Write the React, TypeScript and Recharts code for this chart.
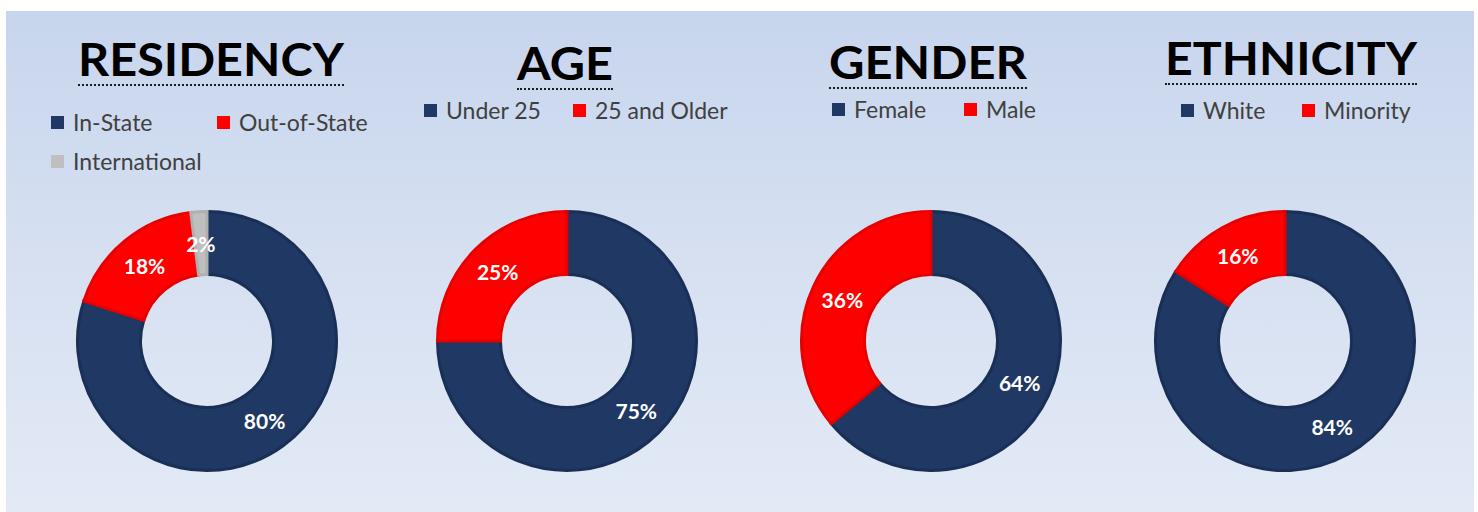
import React from "react";
import { PieChart, Pie, Cell } from "recharts";

const titles = ["RESIDENCY", "AGE", "GENDER", "ETHNICITY"];

const residencyLabels = ["In-State", "Out-of-State", "International"];
const residencyValues = [80, 18, 2];

const ageLabels = ["Under 25", "25 and Older"];
const ageValues = [75, 25];

const genderLabels = ["Female", "Male"];
const genderValues = [64, 36];

const ethnicityLabels = ["White", "Minority"];
const ethnicityValues = [84, 16];

const COLORS = ["#1f3864", "#ff0000", "#bfbfbf"];
const STROKES = ["#1a2f56", "#e60000", "#b0b0b0"];

const FONT = "Lato, 'Open Sans', sans-serif";

// page-pixel layout for each panel
const layout = [
    { cx: 207, titleL: 78, titleW: 266, base: 76, dot: 84, legL: 51, legY: 122, colW: 166, rowH: 39 },
    { cx: 567, titleL: 517, titleW: 96, base: 80, dot: 88, legL: 424, legY: 110, colW: 149, rowH: 39 },
    { cx: 931, titleL: 829, titleW: 198, base: 79, dot: 87, legL: 832, legY: 109, colW: 132, rowH: 39 },
    { cx: 1285, titleL: 1165, titleW: 252, base: 75, dot: 83, legL: 1181, legY: 110, colW: 121, rowH: 39 },
];

const datasets = [
    { labels: residencyLabels, values: residencyValues },
    { labels: ageLabels, values: ageValues },
    { labels: genderLabels, values: genderValues },
    { labels: ethnicityLabels, values: ethnicityValues },
];

const RAD = Math.PI / 180;

function renderLabel(props: any) {
    const { cx, cy, midAngle, innerRadius, outerRadius, value } = props;
    const r = (innerRadius + outerRadius) / 2;
    const x = cx + r * Math.cos(-midAngle * RAD);
    const y = cy + r * Math.sin(-midAngle * RAD);
    return (
        <text
            x={x}
            y={y}
            fill="#ffffff"
            textAnchor="middle"
            dominantBaseline="central"
            style={{ fontFamily: FONT, fontSize: 21, fontWeight: 700 }}
        >
            {value}%
        </text>
    );
}

const CHART = 300;
const CY = 341;

function Panel({ index }: { index: number }) {
    const cfg = layout[index];
    const { labels, values } = datasets[index];
    const data = labels.map((name, i) => ({ name, value: values[i] }));
    // residency legend wraps after two items
    const perRow = 2;
    return (
        <>
            <svg
                width={cfg.titleW + 20}
                height={70}
                style={{ position: "absolute", left: cfg.titleL - 10, top: cfg.base - 50 }}
            >
                <text
                    x={(cfg.titleW + 20) / 2}
                    y={50}
                    textAnchor="middle"
                    textLength={cfg.titleW}
                    lengthAdjust="spacingAndGlyphs"
                    fill="#000"
                    style={{ fontFamily: FONT, fontSize: 46, fontWeight: 700 }}
                >
                    {titles[index]}
                </text>
            </svg>
            <div
                style={{
                    position: "absolute",
                    left: cfg.titleL,
                    top: cfg.dot,
                    width: cfg.titleW,
                    borderTop: "2px dotted #1a1a1a",
                }}
            />
            {data.map((d, i) => (
                <div
                    key={d.name}
                    style={{
                        position: "absolute",
                        left: cfg.legL + (i % perRow) * cfg.colW,
                        top: cfg.legY + Math.floor(i / perRow) * cfg.rowH - 14,
                        height: 28,
                        display: "flex",
                        alignItems: "center",
                        fontFamily: FONT,
                        fontSize: 23,
                        color: "#404040",
                        whiteSpace: "nowrap",
                    }}
                >
                    <span style={{ width: 13, height: 13, background: COLORS[i], marginRight: 9, display: "inline-block" }} />
                    {d.name}
                </div>
            ))}
            <div style={{ position: "absolute", left: cfg.cx - CHART / 2, top: CY - CHART / 2 }}>
                <PieChart width={CHART} height={CHART} margin={{ top: 0, right: 0, bottom: 0, left: 0 }}>
                    <Pie
                        data={data}
                        dataKey="value"
                        nameKey="name"
                        cx={CHART / 2}
                        cy={CHART / 2}
                        startAngle={90}
                        endAngle={-270}
                        innerRadius={66.5}
                        outerRadius={129.5}
                        stroke="none"
                        label={renderLabel}
                        labelLine={false}
                        isAnimationActive={false}
                    >
                        {data.map((d, i) => (
                            <Cell key={d.name} fill={COLORS[i]} stroke={STROKES[i]} strokeWidth={3} />
                        ))}
                    </Pie>
                </PieChart>
            </div>
        </>
    );
}

export default function App() {
    return (
        <div style={{ position: "absolute", left: 0, top: 0, width: 1478, height: 512, background: "#ffffff", overflow: "hidden" }}>
            <div
                style={{
                    position: "absolute",
                    left: 6,
                    top: 11,
                    width: 1468,
                    height: 501,
                    background: "linear-gradient(180deg, #c7d5ed 0%, #d6e0f1 50%, #e3eaf6 100%)",
                }}
            />
            {titles.map((t, i) => (
                <Panel key={t} index={i} />
            ))}
        </div>
    );
}
